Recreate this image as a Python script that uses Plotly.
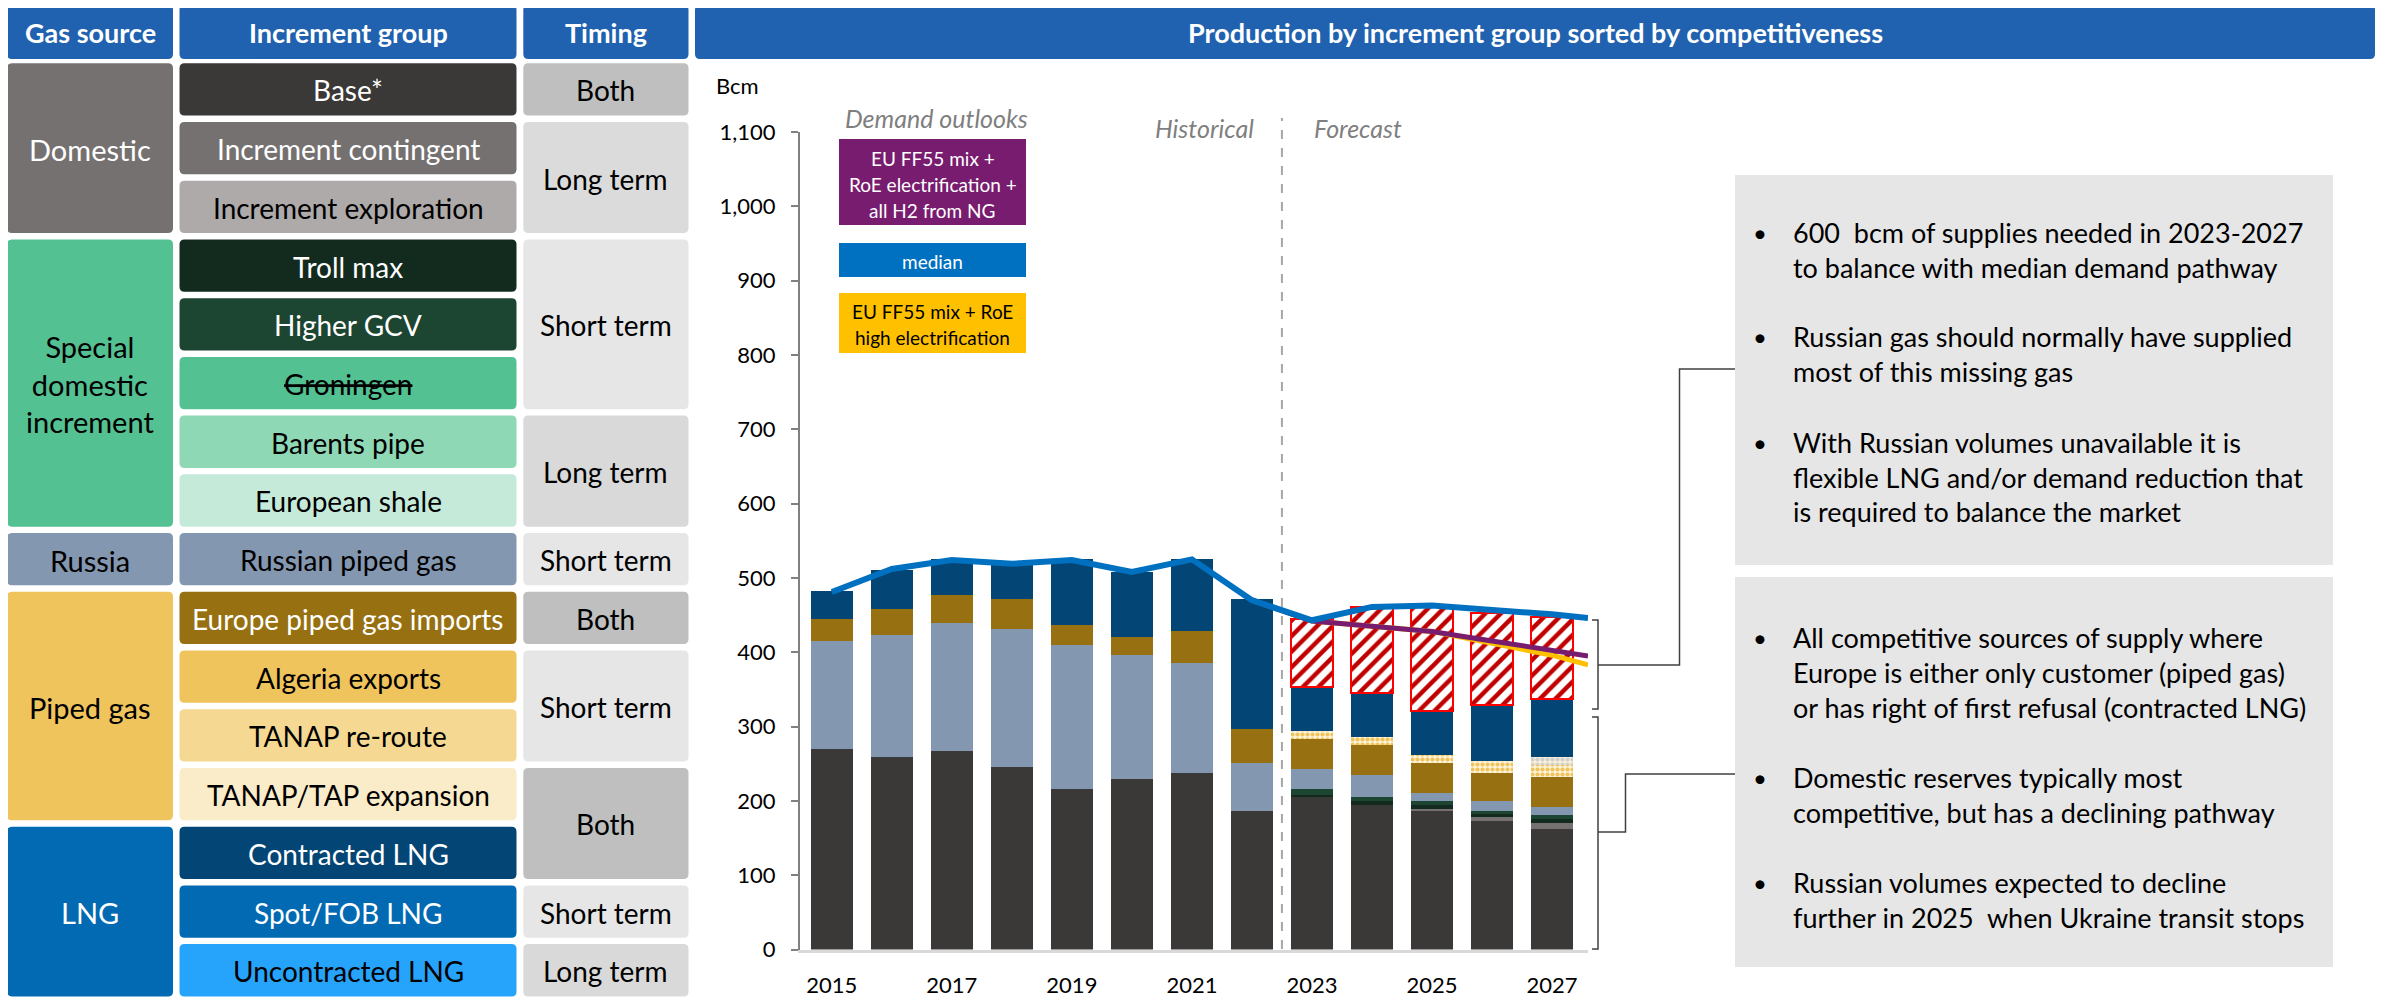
import plotly.graph_objects as go

W, H = 2392, 998
OFF = 8  # page body margin compensation
FONT = "Lato, 'Open Sans', sans-serif"

# ---------------- data ----------------
years = [2015, 2016, 2017, 2018, 2019, 2020, 2021, 2022, 2023, 2024, 2025, 2026, 2027]
base = [270, 259, 267, 246, 216, 230, 238, 187, 205, 194, 186, 173, 162]
incr_contingent = [0, 0, 0, 0, 0, 0, 0, 0, 0, 0, 3, 5, 8]
troll_max = [0, 0, 0, 0, 0, 0, 0, 0, 3, 6, 5, 4, 6]
higher_gcv = [0, 0, 0, 0, 0, 0, 0, 0, 8, 5, 6, 4, 5]
russian_piped = [145, 164, 172, 185, 194, 166, 147, 64, 27, 30, 11, 14, 11]
europe_piped = [30, 35, 38, 40, 26, 24, 43, 46, 40, 40, 40, 37, 40]
algeria_tanap = [0, 0, 0, 0, 0, 0, 0, 0, 11, 11, 11, 17, 16]
tanap_tap = [0, 0, 0, 0, 0, 0, 0, 0, 0, 0, 0, 0, 11]
contracted_lng = [38, 53, 48, 48, 89, 88, 97, 174, 59, 59, 59, 75, 78]
supply_gap = [0, 0, 0, 0, 0, 0, 0, 0, 92, 116, 140, 124, 110]

line_x = years + [2027.6]
median_demand = [481, 512, 524, 519, 524, 508, 525, 470, 443, 461, 463, 458, 451, 446]
ff55_h2 = [None, None, None, None, None, None, None, 470, 442, 435, 428, 415, 403, 395]
ff55_high_elec = [None, None, None, None, None, None, None, 470, 442, 435, 428, 412, 396, 383]

x_ticks = [2015, 2017, 2019, 2021, 2023, 2025, 2027]
y_ticks = [0, 100, 200, 300, 400, 500, 600, 700, 800, 900, 1000, 1100]

headers = ["Gas source", "Increment group", "Timing"]
groups = ["Base*", "Increment contingent", "Increment exploration", "Troll max", "Higher GCV",
          "<s>Groningen</s>", "Barents pipe", "European shale", "Russian piped gas",
          "Europe piped gas imports", "Algeria exports", "TANAP re-route", "TANAP/TAP expansion",
          "Contracted LNG", "Spot/FOB LNG", "Uncontracted LNG"]
group_colors = ["#3B3838", "#767171", "#AEAAAA", "#132B1F", "#1C4532", "#54C192", "#8FD8B6",
                "#C6EADA", "#8497B0", "#967011", "#F0C45C", "#F5D993", "#FAEBC9",
                "#034574", "#026AB3", "#26A4FC"]
group_text = ["white", "white", "black", "white", "white", "black", "black", "black", "black",
              "white", "black", "black", "black", "white", "white", "black"]
sources = [("Domestic", 0, 3, "#767171", "white"),
           ("Special<br>domestic<br>increment", 3, 5, "#54C192", "black"),
           ("Russia", 8, 1, "#8497B0", "black"),
           ("Piped gas", 9, 4, "#F0C45C", "black"),
           ("LNG", 13, 3, "#026AB3", "white")]
timing = [("Both", 0, 1, "#BFBFBF"), ("Long term", 1, 2, "#DBDBDB"), ("Short term", 3, 3, "#E6E6E6"),
          ("Long term", 6, 2, "#D9D9D9"), ("Short term", 8, 1, "#E6E6E6"), ("Both", 9, 1, "#BFBFBF"),
          ("Short term", 10, 2, "#E6E6E6"), ("Both", 12, 2, "#BFBFBF"), ("Short term", 14, 1, "#E6E6E6"),
          ("Long term", 15, 1, "#D9D9D9")]

box1_bullets = [["600  bcm of supplies needed in 2023-2027", "to balance with median demand pathway"],
                ["Russian gas should normally have supplied", "most of this missing gas"],
                ["With Russian volumes unavailable it is", "flexible LNG and/or demand reduction that",
                 "is required to balance the market"]]
box2_bullets = [["All competitive sources of supply where", "Europe is either only customer (piped gas)",
                 "or has right of first refusal (contracted LNG)"],
                ["Domestic reserves typically most", "competitive, but has a declining pathway"],
                ["Russian volumes expected to decline", "further in 2025  when Ukraine transit stops"]]

# ---------------- helpers ----------------
def X(px):
    return (px - OFF) / W

def Y(py):
    return 1 - (py - OFF) / H

shapes = []
annotations = []

def rrect(x0, y0, x1, y1, color, r=5):
    p = (f"M {X(x0+r)},{Y(y0)} L {X(x1-r)},{Y(y0)} Q {X(x1)},{Y(y0)} {X(x1)},{Y(y0+r)} "
         f"L {X(x1)},{Y(y1-r)} Q {X(x1)},{Y(y1)} {X(x1-r)},{Y(y1)} L {X(x0+r)},{Y(y1)} "
         f"Q {X(x0)},{Y(y1)} {X(x0)},{Y(y1-r)} L {X(x0)},{Y(y0+r)} Q {X(x0)},{Y(y0)} {X(x0+r)},{Y(y0)} Z")
    shapes.append(dict(type="path", path=p, xref="paper", yref="paper", fillcolor=color,
                       line=dict(width=0), layer="above"))

def rect(x0, y0, x1, y1, color):
    shapes.append(dict(type="rect", xref="paper", yref="paper", x0=X(x0), x1=X(x1), y0=Y(y1), y1=Y(y0),
                       fillcolor=color, line=dict(width=0), layer="above"))

def text(px, py, s, size=22, color="black", xanchor="center", bold=False, italic=False):
    if bold:
        s = f"<b>{s}</b>"
    font = dict(family=FONT, size=size, color=color)
    if italic:
        font["style"] = "italic"
    annotations.append(dict(x=X(px), y=Y(py), xref="paper", yref="paper", text=s, showarrow=False,
                            xanchor=xanchor, yanchor="middle", font=font))

def polyline(pts, color="#404040", width=1.5):
    p = "M " + " L ".join(f"{X(a)},{Y(b)}" for a, b in pts)
    shapes.append(dict(type="path", path=p, xref="paper", yref="paper", line=dict(color=color, width=width),
                       layer="above"))

def nz(vals):
    return [v if v else None for v in vals]

# ---------------- table ----------------
COLS = [(7, 173), (179.5, 516.5), (523.3, 688.5)]
HDR_BLUE = "#2062AF"
for (c0, c1), h in zip(COLS, headers):
    rrect(c0, 5, c1, 59, HDR_BLUE)
    text((c0 + c1) / 2, 32, h, size=27, color="white", bold=True)
rrect(695, 5, 2375, 59, HDR_BLUE)
text(1535, 32, "Production by increment group sorted by competitiveness", size=27, color="white", bold=True)

ROW0, PITCH, BOXH = 63.3, 58.72, 52.3

def row_span(start, n):
    top = ROW0 + start * PITCH
    return top, top + n * PITCH - (PITCH - BOXH)

for i, (g, c, tc) in enumerate(zip(groups, group_colors, group_text)):
    t, b = row_span(i, 1)
    rrect(COLS[1][0], t, COLS[1][1], b, c)
    text((COLS[1][0] + COLS[1][1]) / 2, (t + b) / 2 + 1, g, size=28, color=tc)

for s, st, n, c, tc in sources:
    t, b = row_span(st, n)
    rrect(COLS[0][0], t, COLS[0][1], b, c)
    text((COLS[0][0] + COLS[0][1]) / 2, (t + b) / 2 + 1, s, size=29, color=tc)

for s, st, n, c in timing:
    t, b = row_span(st, n)
    rrect(COLS[2][0], t, COLS[2][1], b, c)
    text((COLS[2][0] + COLS[2][1]) / 2, (t + b) / 2 + 1, s, size=28, color="black")

# ---------------- chart decorations ----------------
text(714, 85, "Bcm", size=22, xanchor="left")
text(936, 118, "Demand outlooks", size=25, color="#7F7F7F", italic=True)
text(1256, 128, "Historical", size=25, color="#7F7F7F", italic=True, xanchor="right")
text(1312, 128, "Forecast", size=25, color="#7F7F7F", italic=True, xanchor="left")

rect(839, 139, 1026, 225, "#771C6E")
for k, ln in enumerate(["EU FF55 mix +", "RoE electrification +", "all H2 from NG"]):
    text(932.5, 158.5 + 25.8 * k, ln, size=19, color="white")
rect(839, 243, 1026, 277, "#0070C0")
text(932.5, 262, "median", size=19, color="white")
rect(839, 293, 1026, 353, "#FFC000")
for k, ln in enumerate(["EU FF55 mix + RoE", "high electrification"]):
    text(932.5, 311.5 + 25.8 * k, ln, size=19, color="black")

# dashed divider
shapes.append(dict(type="line", xref="x", yref="paper", x0=2022.5, x1=2022.5, y0=Y(949), y1=Y(118),
                   line=dict(color="#A6A6A6", width=2, dash="dash"), layer="below"))

# brackets and connectors
polyline([(1592, 620), (1598, 620), (1598, 709), (1592, 709)])
polyline([(1598, 665), (1679.5, 665), (1679.5, 369), (1735, 369)])
polyline([(1592, 717), (1598, 717), (1598, 949), (1592, 949)])
polyline([(1598, 832), (1625.5, 832), (1625.5, 774), (1735, 774)])

# text boxes
rect(1735, 175, 2333, 565, "#E6E6E6")
rect(1735, 577, 2333, 967, "#E6E6E6")

def bullets(blist, y_start):
    y = y_start
    for bl in blist:
        text(1760, y, "•", size=24, xanchor="center")
        for ln in bl:
            text(1791, y, ln, size=27, xanchor="left")
            y += 35
        y += 35

bullets(box1_bullets, 232)
bullets(box2_bullets, 637)

# ---------------- traces ----------------
fig = go.Figure()

def bar(name, vals, color, pattern=None, line=None):
    marker = dict(color=color, line=dict(width=0))
    if pattern:
        marker["pattern"] = pattern
    if line:
        marker["line"] = line
    fig.add_trace(go.Bar(x=years, y=nz(vals), name=name, marker=marker, hoverinfo="name+y"))

bar("Base*", base, "#3B3838")
bar("Increment contingent", incr_contingent, "#767171")
bar("Troll max", troll_max, "#132B1F")
bar("Higher GCV", higher_gcv, "#1C4532")
bar("Russian piped gas", russian_piped, "#8497B0")
bar("Europe piped gas imports", europe_piped, "#967011")
bar("Algeria exports / TANAP re-route", algeria_tanap, "#F0C45C",
    pattern=dict(shape=".", size=5, solidity=0.55, fgcolor="#F0C45C", bgcolor="#FDF3DA", fillmode="replace"))
bar("TANAP/TAP expansion", tanap_tap, "#D0D0D0",
    pattern=dict(shape=".", size=5, solidity=0.55, fgcolor="#D0D0D0", bgcolor="#FBEFD5", fillmode="replace"))
bar("Contracted LNG", contracted_lng, "#034574")
bar("Supply gap", supply_gap, "#FFFFFF",
    pattern=dict(shape="/", size=11, solidity=0.4, fgcolor="#C00000", bgcolor="#FFFFFF", fillmode="replace"),
    line=dict(color="#FF0000", width=2))

fig.add_trace(go.Scatter(x=line_x, y=ff55_high_elec, mode="lines", name="EU FF55 mix + RoE high electrification",
                         line=dict(color="#FFC000", width=5), connectgaps=False))
fig.add_trace(go.Scatter(x=line_x, y=ff55_h2, mode="lines", name="EU FF55 mix + RoE electrification + all H2 from NG",
                         line=dict(color="#771C6E", width=5), connectgaps=False))
fig.add_trace(go.Scatter(x=line_x, y=median_demand, mode="lines", name="median",
                         line=dict(color="#0070C0", width=6)))

fig.update_layout(
    template="none",
    width=W, height=H, autosize=False,
    margin=dict(l=0, r=0, t=0, b=0, pad=0),
    paper_bgcolor="white", plot_bgcolor="white",
    barmode="stack", bargap=0.305,
    showlegend=False,
    font=dict(family=FONT, size=22, color="black"),
    shapes=shapes, annotations=annotations,
    xaxis=dict(domain=[X(800), X(1588)], range=[2014.47, 2027.6], tickvals=x_ticks, automargin=False,
               showline=True, linecolor="#D9D9D9", linewidth=3, ticks="", showgrid=False, zeroline=False,
               tickfont=dict(family=FONT, size=22, color="black"), ticklabelstandoff=14, fixedrange=True),
    yaxis=dict(domain=[Y(949.5), Y(132)], range=[0, 1100], tickvals=y_ticks, tickformat=",", automargin=False,
               showline=True, linecolor="#808080", linewidth=2, ticks="outside", ticklen=7,
               tickcolor="#808080", tickwidth=2, showgrid=False, zeroline=False,
               tickfont=dict(family=FONT, size=22, color="black"), ticklabelstandoff=11, fixedrange=True),
)

fig.write_html("out.html")
